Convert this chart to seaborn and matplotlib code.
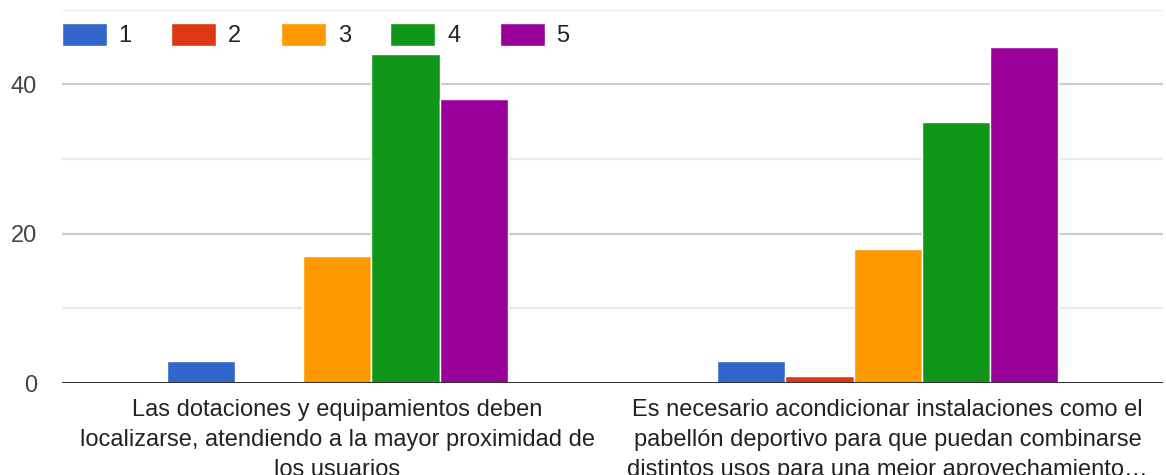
import matplotlib
matplotlib.use("Agg")
import matplotlib.pyplot as plt
import seaborn as sns
import pandas as pd

categories = [
    "Las dotaciones y equipamientos deben\nlocalizarse, atendiendo a la mayor proximidad de\nlos usuarios",
    "Es necesario acondicionar instalaciones como el\npabellón deportivo para que puedan combinarse\ndistintos usos para una mejor aprovechamiento…",
]
series_names = ["1", "2", "3", "4", "5"]
values_1 = [3, 3]
values_2 = [0, 1]
values_3 = [17, 18]
values_4 = [44, 35]
values_5 = [38, 45]
colors = ["#3366cc", "#dc3912", "#ff9900", "#109618", "#990099"]
y_ticks = [0, 20, 40]

rows = []
for name, vals in zip(series_names, [values_1, values_2, values_3, values_4, values_5]):
    for cat, v in zip(categories, vals):
        rows.append({"cat": cat, "series": name, "value": v})
df = pd.DataFrame(rows)

sns.set_style("white")
plt.rcParams["font.family"] = ["Liberation Sans", "DejaVu Sans"]

fig = plt.figure(figsize=(11.66, 4.75), dpi=100)
ax = fig.add_axes([62 / 1166, 92 / 475, 1101 / 1166, 373.5 / 475])

sns.barplot(data=df, x="cat", y="value", hue="series", hue_order=series_names,
            palette=colors, saturation=1, width=0.62, gap=0, edgecolor="white",
            linewidth=1, ax=ax, zorder=3, legend=True)

ax.set_ylim(0, 50)
ax.set_xlim(-0.5, 1.5)
for y in [10, 30, 50]:
    ax.axhline(y, color="#ebebeb", lw=1.6, zorder=1)
for y in [20, 40]:
    ax.axhline(y, color="#cccccc", lw=1.6, zorder=1)
ax.axhline(0, color="#333333", lw=2.2, zorder=4)

ax.set_yticks(y_ticks)
ax.set_yticklabels([str(t) for t in y_ticks], fontsize=17, color="#444444")
ax.tick_params(axis="y", length=0, pad=18)
ax.tick_params(axis="x", length=0, pad=11.5)
ax.set_xticks([0, 1])
ax.set_xticklabels(categories, fontsize=17, color="#222222", linespacing=1.47)
ax.set_xlabel("")
ax.set_ylabel("")
for s in ax.spines.values():
    s.set_visible(False)

handles, labels = ax.get_legend_handles_labels()
ax.legend(handles, labels, loc="upper left", bbox_to_anchor=(0.0, 0.965),
          ncol=5, frameon=False, fontsize=17, handlelength=1.9, handleheight=1.14,
          handletextpad=0.5, columnspacing=1.68, borderaxespad=0, borderpad=0,
          labelcolor="#222222")

fig.savefig("out.png", dpi=100, facecolor="white")
